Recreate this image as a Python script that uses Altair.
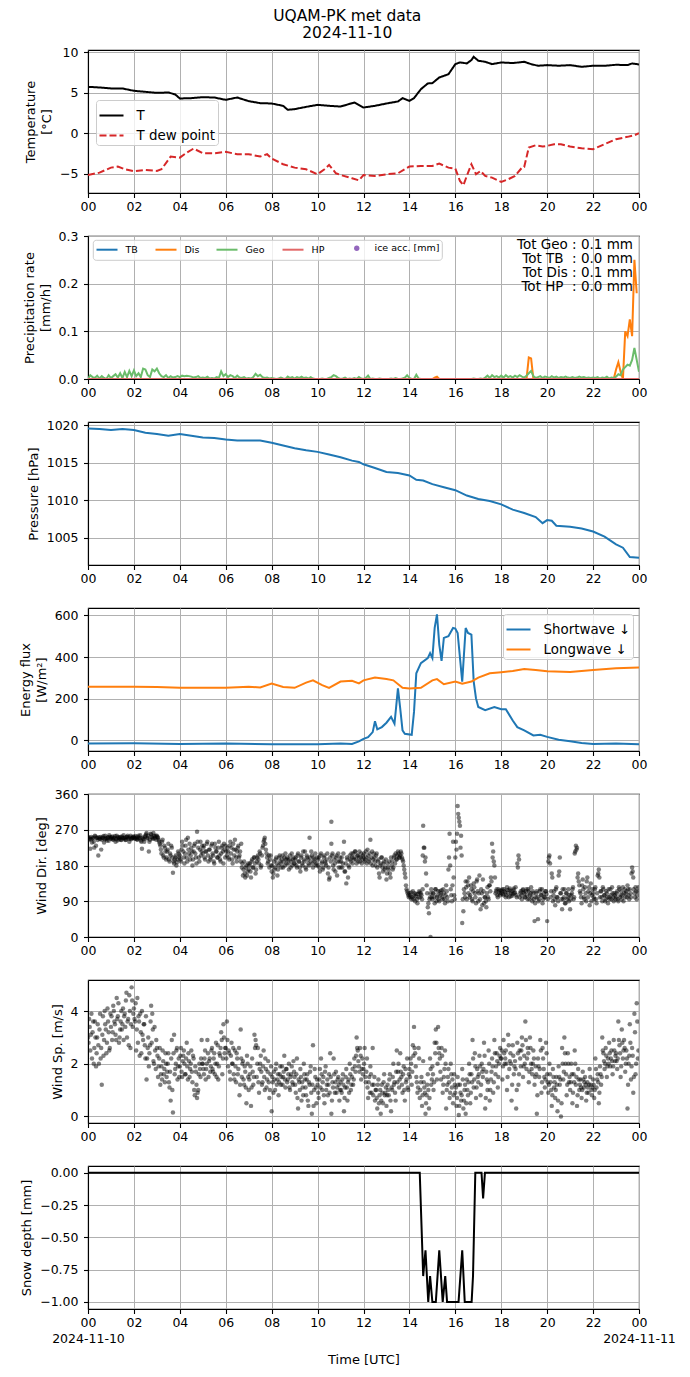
import altair as alt
import pandas as pd

FONT = "DejaVu Sans"
FS = 12.5
W, H = 551, 143

# ---------------- data ----------------
t_hours = [0,0.5,1,1.5,2,2.5,3,3.5,3.8,4,4.5,5,5.5,6,6.5,7,7.5,8,8.5,8.7,9,9.5,10,10.5,11,11.3,11.6,12,12.5,13,
           13.5,13.7,14,14.2,14.5,14.8,15,15.3,15.7,16,16.2,16.5,16.7,16.8,17,17.3,17.6,18,18.5,19,19.3,19.6,20,20.5,
           21,21.5,22,22.5,23,23.5,23.7,24]
t_vals = [5.74,5.66,5.54,5.54,5.25,5.12,5.0,5.04,4.8,4.3,4.34,4.46,4.42,4.13,4.42,3.97,3.72,3.68,3.39,2.9,
          2.98,3.26,3.51,3.39,3.3,3.55,3.8,3.18,3.39,3.68,3.93,4.34,4.0,4.34,5.45,6.16,6.2,6.9,7.3,8.55,
          8.76,8.64,9.05,9.46,8.97,8.84,8.55,8.76,8.68,8.84,8.55,8.35,8.43,8.35,8.43,8.22,8.35,8.35,8.47,8.43,
          8.64,8.51]
td_hours = [0,0.5,1,1.3,1.6,2,2.5,3,3.2,3.6,4,4.3,4.6,5,5.5,6,6.5,7,7.5,7.8,8,8.5,9,9.5,10,10.3,10.5,10.8,11,11.5,
            11.8,12,12.5,13,13.5,14,14.5,15,15.3,15.7,16,16.2,16.35,16.5,16.7,16.9,17.1,17.3,17.6,18,18.3,18.6,18.9,
            19,19.2,19.5,19.8,20,20.3,20.6,21,21.5,22,22.5,23,23.5,23.8,24]
td_vals = [-5.17,-4.88,-4.26,-4.13,-4.46,-4.71,-4.55,-4.67,-4.46,-2.89,-3.02,-2.4,-1.9,-2.48,-2.48,-2.31,-2.6,-2.6,
           -2.89,-2.6,-3.14,-3.84,-4.26,-4.46,-5.08,-4.46,-3.93,-4.96,-5.17,-5.58,-5.83,-5.17,-5.29,-5.08,-4.96,
           -4.13,-4.05,-4.05,-3.76,-4.26,-4.38,-5.91,-6.45,-5.29,-3.84,-5.08,-4.67,-5.29,-5.5,-6.03,-5.7,-5.29,
           -4.26,-4.17,-1.78,-1.49,-1.65,-1.57,-1.36,-1.36,-1.65,-1.86,-1.98,-1.36,-0.74,-0.45,-0.25,0.0]

geo_hours = [i / 10 for i in range(241)]
geo_vals = [
    0.0, 0.008, 0.004, 0.002, 0.007, 0.001, 0.006, 0.002, 0.0, 0.008,
    0.002, 0.006, 0.010, 0.003, 0.012, 0.002, 0.015, 0.004, 0.017, 0.006,
    0.018, 0.006, 0.012, 0.004, 0.022, 0.020, 0.008, 0.004, 0.020, 0.016,
    0.022, 0.012, 0.006, 0.004, 0.008, 0.002, 0.006, 0.003, 0.004, 0.006,
    0.004, 0.007, 0.006, 0.007, 0.006, 0.005, 0.003, 0.004, 0.006, 0.002,
    0.003, 0.002, 0.005, 0.001, 0.002, 0.001, 0.004, 0.002, 0.016, 0.006,
    0.010, 0.004, 0.008, 0.006, 0.002, 0.007, 0.003, 0.002, 0.004, 0.001,
    0.002, 0.001, 0.004, 0.011, 0.006, 0.009, 0.004, 0.002, 0.003, 0.001,
    0.002, 0.001, 0.000, 0.001, 0.003, 0.001, 0.000, 0.005, 0.002, 0.004,
    0.001, 0.004, 0.002, 0.005, 0.002, 0.003, 0.001, 0.004, 0.001, 0.000,
    0.0, 0.0, 0.001, 0.0, 0.0, 0.002, 0.004, 0.008, 0.006, 0.002,
    0.0, 0.001, 0.003, 0.0, 0.001, 0.0, 0.002, 0.0, 0.004, 0.001,
    0.0, 0.002, 0.007, 0.0, 0.001, 0.0, 0.0, 0.001, 0.0, 0.0,
    0.0, 0.0, 0.001, 0.0, 0.002, 0.0, 0.0, 0.001, 0.003, 0.008,
    0.002, 0.0, 0.0, 0.009, 0.001, 0.0, 0.0, 0.0, 0.0, 0.0,
    0.0, 0.0, 0.0, 0.0, 0.0, 0.0, 0.0, 0.0, 0.0, 0.0,
    0.0, 0.0, 0.0, 0.0, 0.0, 0.0, 0.0, 0.0, 0.001, 0.0,
    0.0, 0.001, 0.0, 0.003, 0.007, 0.002, 0.008, 0.004, 0.006, 0.003,
    0.007, 0.003, 0.008, 0.004, 0.006, 0.003, 0.007, 0.004, 0.008, 0.005,
    0.003, 0.007, 0.012, 0.017, 0.006, 0.002, 0.004, 0.006, 0.002, 0.005,
    0.004, 0.002, 0.006, 0.003, 0.005, 0.002, 0.004, 0.003, 0.005, 0.003,
    0.002, 0.004, 0.002, 0.003, 0.005, 0.003, 0.004, 0.002, 0.003, 0.002,
    0.003, 0.002, 0.004, 0.001, 0.003, 0.002, 0.005, 0.001, 0.003, 0.002,
    0.005, 0.010, 0.008, 0.020, 0.025, 0.030, 0.028, 0.040, 0.065, 0.040,
    0.015]
dis_hours = [15.0,15.1,15.2,15.3,19.0,19.1,19.2,19.3,19.4,22.8,22.9,23.0,23.1,23.2,23.3,23.4,23.5,23.6,23.7,23.8,23.9]
dis_vals = [0,0.003,0.005,0,0,0.0,0.045,0.043,0,0,0,0.02,0.035,0.015,0,0.1,0.09,0.125,0.09,0.25,0.18]
tb_hours = [0, 24]
tb_vals = [0, 0]
hp_hours = [0, 24]
hp_vals = [0, 0]
precip_series = ["TB", "Dis", "Geo", "HP"]
precip_colors = ["#1f77b4", "#ff7f0e", "#6bbc6b", "#e26868"]
totals_text = ["Tot Geo : 0.1 mm", "Tot TB\u00a0\u00a0: 0.0 mm", "Tot Dis : 0.1 mm", "Tot HP\u00a0\u00a0: 0.0 mm"]

p_hours = [0,0.5,1,1.5,2,2.5,3,3.5,4,4.5,5,5.5,6,6.5,7,7.5,8,8.5,9,9.5,10,10.5,11,11.5,11.8,12,12.5,13,13.5,14,
           14.3,14.6,15,15.5,16,16.5,17,17.5,18,18.5,19,19.5,19.8,20,20.2,20.4,21,21.5,22,22.5,23,23.3,23.6,24]
p_vals = [1019.55,1019.46,1019.33,1019.46,1019.33,1018.97,1018.8,1018.57,1018.8,1018.57,1018.35,1018.26,1018.08,
          1017.95,1017.95,1017.95,1017.63,1017.28,1016.92,1016.65,1016.43,1016.07,1015.71,1015.27,1015.09,1014.78,
          1014.29,1013.75,1013.62,1013.3,1012.72,1012.63,1012.14,1011.74,1011.34,1010.63,1010.18,1009.91,1009.46,
          1008.75,1008.3,1007.77,1006.96,1007.37,1007.28,1006.61,1006.47,1006.25,1005.85,1005.18,1004.15,1003.7,
          1002.46,1002.37]

lw_hours = [0,2,3,4,6,7,7.5,8,8.5,9,9.5,9.8,10.2,10.5,11,11.5,11.8,12,12.5,13,13.3,13.7,14,14.5,15,15.2,15.5,16,
            16.3,16.7,17,17.5,18,18.5,19,19.5,20,21,22,23,24]
lw_vals = [257,257,256,252,252,257,254,272,256,252,277,288,265,252,282,286,273,288,301,294,288,252,249,252,288,294,
           269,282,272,282,301,322,327,333,343,338,332,328,338,346,350]
sw_hours = [0,2,4,6,8,10,11,11.5,11.8,12,12.2,12.4,12.5,12.6,12.8,13,13.2,13.35,13.5,13.6,13.7,13.8,14.1,14.2,14.3,
            14.5,14.8,14.9,15,15.1,15.2,15.3,15.4,15.5,15.7,15.9,16,16.1,16.3,16.45,16.55,16.7,16.8,16.9,17,17.3,
            17.7,18,18.2,18.5,18.7,19,19.4,19.7,20,20.5,21,21.5,22,23,24]
sw_vals = [-16,-15,-18,-16,-19,-19,-16,-18,-6,6,15,39,91,52,63,84,112,79,249,152,47,31,26,136,322,371,395,419,395,
           540,605,460,382,492,500,540,537,516,282,540,516,508,282,201,160,144,160,149,149,95,63,47,23,26,16,2,-5,
           -13,-18,-16,-19]
rad_series = ["Shortwave \u2193", "Longwave \u2193"]

# wind observations: two interleaved 3-minute sets
wind_hours_a = [i / 20 for i in range(480)]
wind_hours_b = [i / 20 + 0.025 for i in range(480)]
wdir_vals_a = [
    250,245,222,252,248,240,255,230,250,205,248,252,245,250,238,255,247,250,242,252,
    248,253,245,250,240,255,250,246,252,244,250,256,248,245,252,250,240,255,248,250,
    252,247,250,245,255,250,243,222,248,240,255,262,250,215,245,258,250,262,248,255,
    255,250,240,230,210,245,200,225,195,215,235,190,205,225,162,185,200,180,195,210,
    205,190,240,215,185,230,200,250,210,195,225,180,215,235,200,265,225,190,240,215,
    210,230,195,215,240,190,220,200,235,205,185,225,215,200,240,195,210,230,185,220,
    230,205,215,195,240,225,185,220,245,200,215,230,205,190,175,155,190,150,180,165,
    170,185,150,195,175,200,160,190,205,185,210,180,225,240,250,220,200,190,175,205,
    165,150,190,175,200,155,180,205,185,195,175,200,210,185,195,170,205,190,180,200,
    185,200,175,210,190,165,205,180,195,215,170,200,185,250,190,205,175,195,210,185,
    180,200,165,210,190,175,205,185,195,160,145,200,235,210,170,185,200,155,210,190,
    175,200,185,240,165,135,195,180,205,190,200,210,195,215,185,205,200,190,210,195,
    200,190,215,185,205,195,245,200,180,210,190,205,175,195,150,185,200,165,190,175,
    145,185,170,160,200,190,175,205,210,195,215,200,205,210,195,180,160,130,115,105,
    110,100,95,115,105,90,108,85,100,112,110,95,280,225,200,130,75,60,100,120,
    95,110,85,120,100,115,90,105,118,95,110,85,130,100,170,260,120,90,240,105,
    200,220,330,300,280,255,35,65,110,140,95,130,150,105,120,90,135,110,85,145,
    90,155,70,110,145,85,100,75,125,95,130,150,235,215,180,110,120,100,115,105,
    110,120,105,115,100,125,110,118,102,115,108,122,112,105,185,205,100,115,95,120,
    110,100,120,95,115,105,125,90,110,40,100,115,45,95,120,105,85,110,100,115,
    40,190,205,100,160,90,115,80,125,100,155,200,110,70,95,120,85,110,100,90,
    70,105,120,95,210,230,225,160,130,110,85,145,100,125,90,150,115,80,135,105,
    110,95,125,85,155,170,100,115,90,120,105,95,110,85,100,120,95,110,90,105,
    100,115,90,120,105,95,125,110,100,115,130,105,120,100,175,150,110,125,95,115]
wdir_vals_b = [
    252,248,246,238,250,225,253,249,244,251,247,220,250,254,246,249,243,251,256,248,
    251,246,249,254,247,243,252,249,245,253,248,250,244,252,255,247,251,246,250,253,
    249,254,246,251,248,256,240,250,246,252,258,248,255,240,260,252,247,255,251,245,
    252,245,235,220,240,205,230,215,200,220,195,210,230,200,190,195,205,188,215,200,
    195,220,230,200,210,245,190,220,235,205,215,195,230,210,185,240,200,220,205,230,
    225,200,215,235,205,220,195,230,210,190,235,215,200,225,205,190,225,215,235,200,
    215,225,200,230,210,195,235,205,220,190,225,200,215,235,185,170,160,175,155,185,
    180,165,190,175,200,185,170,200,195,215,175,205,230,245,235,210,185,205,195,180,
    180,160,170,195,185,170,200,190,175,205,190,180,195,200,185,195,175,210,195,185,
    195,180,205,190,175,200,185,215,190,175,205,195,180,200,215,185,200,190,180,200,
    195,175,205,185,170,200,190,180,210,175,150,190,205,180,195,165,205,190,175,200,
    190,175,210,165,185,200,150,175,195,210,185,200,215,195,205,190,215,200,185,205,
    210,195,200,220,190,210,185,215,195,200,180,210,190,160,180,200,175,185,170,195,
    160,175,190,150,180,170,200,185,195,205,210,200,215,200,190,170,150,120,110,100,
    105,112,100,95,110,102,95,108,115,100,105,120,225,190,160,110,85,95,110,100,
    110,100,120,90,105,95,115,110,100,120,95,105,115,90,200,180,105,130,150,95,
    240,260,310,290,225,205,95,120,100,125,140,110,100,130,95,115,125,100,140,115,
    110,95,120,80,115,100,90,110,100,130,115,140,200,190,150,115,105,120,110,118,
    115,108,120,112,105,118,100,122,110,104,118,110,125,100,175,195,110,105,118,112,
    100,115,105,120,95,110,100,115,95,85,110,100,90,115,105,120,95,100,115,108,
    95,200,185,115,150,105,95,120,100,90,165,110,95,120,100,85,110,95,120,105,
    95,110,125,100,215,220,150,140,115,100,130,120,95,110,140,100,125,110,90,120,
    100,120,95,110,160,150,115,100,125,105,90,115,100,120,95,105,125,100,110,95,
    110,95,125,100,115,105,90,120,110,100,120,95,110,160,165,120,100,115,105,125]
wdir_extra_hours = [10.6, 14.92, 14.58]
wdir_extra_vals = [290, 0, 205]
wspd_vals_a = [
    3.0,3.7,2.5,3.9,3.2,2.0,3.6,1.9,3.0,2.7,3.3,2.2,1.2,3.8,2.9,3.5,2.4,4.1,3.2,2.6,
    3.4,2.9,4.2,3.6,3.1,4.5,3.8,2.8,3.3,4.0,3.5,2.9,3.9,4.4,3.0,3.7,4.6,2.6,4.9,3.4,
    4.1,3.6,2.5,4.5,3.8,2.3,3.2,4.0,2.9,3.5,2.2,1.4,2.6,1.9,2.7,4.2,3.9,2.1,3.4,1.8,
    2.6,1.5,2.2,1.2,1.9,2.5,1.6,1.3,2.0,1.7,2.4,1.1,0.6,2.9,0.15,3.1,1.8,2.5,1.4,2.2,
    1.9,2.6,1.5,2.3,2.0,1.6,2.8,1.4,2.1,1.8,2.5,1.3,2.2,0.8,1.7,0.7,1.0,2.0,1.5,2.9,
    2.0,1.6,2.5,1.8,2.9,1.5,2.2,1.9,2.6,1.7,2.4,2.0,1.5,2.7,1.9,2.3,3.2,1.6,3.5,2.4,
    2.6,3.6,1.9,2.4,1.4,2.8,2.0,1.6,2.5,1.3,2.2,1.8,0.8,3.3,1.5,2.1,1.2,1.7,0.5,2.0,
    1.0,1.6,0.4,2.2,1.2,3.1,2.9,1.5,2.6,0.9,2.0,1.7,1.3,2.5,1.0,1.8,1.4,2.1,0.7,1.6,
    0.2,1.3,1.7,1.0,2.0,1.4,0.8,1.6,1.2,1.9,1.5,2.3,1.1,1.8,1.4,2.0,1.0,1.6,1.3,2.1,
    1.5,0.9,2.2,0.3,1.3,1.8,0.6,1.1,2.0,1.4,0.8,1.6,0.4,1.2,1.9,0.1,2.7,1.0,1.5,0.5,
    1.2,0.7,1.8,2.2,1.0,1.5,0.5,1.9,1.2,0.8,1.6,2.4,0.1,1.3,2.2,0.9,1.7,1.1,1.5,0.6,
    1.3,0.9,1.6,0.2,1.1,1.8,0.6,1.4,2.0,1.0,1.5,1.2,2.2,1.7,3.0,2.5,1.9,2.6,1.4,2.2,
    1.8,2.6,1.3,2.2,0.7,1.5,1.9,0.9,2.6,1.2,0.6,1.0,0.3,1.4,0.8,0.1,1.2,0.5,1.6,0.9,
    0.4,1.2,0.8,1.6,0.2,1.0,2.0,1.3,0.6,2.5,1.7,1.1,2.4,1.5,0.9,1.9,0.6,1.3,2.2,1.0,
    1.8,2.2,1.2,2.7,3.4,2.4,1.5,0.9,2.6,0.7,1.3,0.4,2.1,1.1,0.1,0.8,1.6,0.3,2.2,1.2,
    1.9,1.0,2.8,3.3,1.4,3.4,2.4,1.7,2.6,0.9,1.5,2.5,0.3,1.2,1.8,0.7,2.0,1.1,0.5,1.6,
    0.9,0.4,1.5,0.05,1.2,0.6,1.8,0.3,1.0,0.1,1.4,0.8,2.0,0.5,1.6,2.9,1.1,2.4,0.7,1.8,
    1.3,2.3,0.8,2.0,1.5,2.8,0.3,1.7,1.0,2.5,0.6,1.4,2.2,0.9,2.9,1.6,2.4,1.1,2.0,2.6,
    2.2,1.4,2.9,2.0,2.5,1.0,3.1,1.8,2.4,0.6,2.7,1.6,2.1,0.3,2.8,1.2,2.5,1.9,3.0,1.5,
    2.3,3.6,1.8,2.6,1.3,3.0,2.0,1.6,2.5,1.2,1.9,0.1,2.2,1.5,2.9,0.9,2.6,1.8,1.1,2.8,
    1.6,0.9,2.0,1.3,0.4,1.8,1.1,0.7,1.5,0.2,1.9,1.2,0.0,2.6,1.4,3.0,2.0,0.8,2.4,1.3,
    1.0,2.0,0.5,1.6,2.5,1.2,0.4,1.8,1.0,1.4,0.7,1.7,1.1,1.5,0.6,1.3,0.9,1.8,1.2,0.8,
    1.4,0.7,2.2,1.1,1.6,0.5,1.9,1.2,3.0,2.4,1.8,2.6,1.5,2.2,2.8,1.9,2.5,1.6,2.9,2.1,
    2.4,1.8,3.6,2.7,1.5,3.3,2.2,2.9,1.7,2.5,0.3,2.0,3.5,1.4,2.6,0.9,3.9,1.6,4.3,2.2]
wspd_vals_b = [
    2.8,3.4,3.1,2.2,3.6,2.6,3.0,2.4,3.5,2.0,3.9,2.6,3.1,2.3,4.0,3.3,2.8,3.6,2.5,3.9,
    3.8,3.2,4.0,3.5,2.9,3.7,4.3,3.0,3.6,3.3,4.1,3.8,3.4,4.7,3.6,2.7,4.0,3.5,4.4,3.9,
    3.7,4.3,3.3,2.8,3.6,3.9,2.4,3.1,3.5,2.7,3.8,2.2,3.0,2.4,3.6,2.8,3.3,2.0,2.5,2.9,
    2.3,1.9,2.6,1.6,1.4,2.1,1.8,2.4,1.5,2.0,1.3,1.7,2.2,1.0,2.4,1.6,2.0,2.6,1.9,1.5,
    2.3,1.7,2.1,2.5,1.6,2.2,1.9,2.4,1.5,2.0,1.7,2.3,1.0,1.9,1.2,0.9,1.6,1.8,2.2,2.0,
    1.8,2.2,1.4,2.0,2.4,2.1,1.7,2.5,1.8,2.2,1.6,2.8,2.0,1.4,2.4,2.6,2.9,2.2,3.0,2.6,
    2.2,2.9,2.5,1.7,2.3,2.0,2.6,1.4,1.9,2.4,1.6,2.6,1.2,2.2,2.0,1.4,1.9,1.1,2.3,1.5,
    1.4,1.9,1.1,1.7,1.5,2.6,2.7,2.0,1.3,1.8,2.3,1.2,1.9,1.5,2.2,1.1,1.7,1.3,1.0,1.9,
    1.5,0.9,1.4,1.8,1.2,1.6,1.3,1.9,1.5,1.2,1.7,1.4,1.8,1.3,1.6,1.1,1.5,1.9,1.2,1.7,
    1.2,1.6,0.7,1.4,1.0,1.5,1.3,0.8,1.6,1.1,1.4,0.6,1.3,1.7,0.9,1.2,0.4,1.8,1.1,1.4,
    0.9,1.4,1.1,1.6,1.3,0.8,1.7,1.0,1.4,1.2,0.9,1.5,0.6,1.1,1.6,1.3,0.9,1.4,1.2,1.0,
    1.0,1.4,1.2,0.7,1.5,1.1,1.3,0.9,1.6,1.2,1.8,1.4,1.9,2.3,2.6,2.1,1.7,2.3,1.8,1.6,
    2.0,1.5,1.7,1.1,1.3,0.9,1.6,1.2,0.8,1.5,1.0,0.7,1.2,0.5,1.0,0.6,0.9,1.3,0.8,1.1,
    0.8,1.0,1.4,0.6,1.1,1.5,1.2,0.9,1.7,1.3,2.0,1.4,1.7,1.2,1.6,1.0,1.8,1.4,1.1,1.6,
    1.5,2.0,1.7,2.3,2.6,1.9,1.3,1.1,2.2,1.0,1.5,0.8,1.3,0.9,0.5,1.2,1.0,0.7,1.8,1.4,
    1.6,1.3,2.4,2.8,2.0,2.6,2.2,1.4,2.3,1.2,1.8,2.0,1.0,1.5,1.3,0.9,1.6,1.4,0.8,1.2,
    1.1,0.7,1.2,0.4,0.9,0.8,1.4,0.6,1.2,0.5,1.0,1.3,1.6,0.9,1.3,2.2,1.4,1.9,1.1,1.5,
    1.6,1.9,1.2,1.7,1.8,2.3,0.7,1.4,1.3,2.0,1.0,1.7,1.9,1.3,2.4,1.9,2.1,1.5,2.3,2.2,
    2.5,1.9,2.4,2.2,2.0,1.5,2.7,2.1,2.0,1.2,2.3,1.9,1.8,1.0,2.4,1.6,2.2,2.5,2.7,1.9,
    2.0,2.9,2.2,2.4,1.7,2.6,1.8,2.0,2.2,1.5,1.6,0.8,1.9,1.8,2.5,1.3,2.2,1.5,1.4,2.4,
    1.3,1.2,1.6,1.0,0.8,1.5,1.3,1.0,1.2,0.6,1.5,1.4,0.5,2.0,1.7,2.4,1.6,1.2,2.0,1.5,
    1.3,1.6,0.9,1.3,2.0,1.5,0.8,1.4,1.2,1.1,1.0,1.4,1.3,1.2,0.9,1.1,1.2,1.5,1.0,1.1,
    1.2,1.0,1.8,1.4,1.3,0.9,1.6,1.5,2.5,2.1,2.0,2.3,1.9,2.0,2.4,2.2,2.1,1.9,2.5,2.3,
    2.1,2.2,2.9,2.4,1.9,2.8,2.5,2.6,2.0,2.2,1.2,2.3,2.8,1.9,2.3,1.5,3.2,2.0,3.6,2.5]

sd_hours = [0,14.45,14.6,14.7,14.82,14.9,15.0,15.15,15.3,15.45,15.56,15.64,16.14,16.3,16.41,16.71,16.77,16.87,
            17.14,17.21,17.29,24]
sd_vals = [0,0,-0.8,-0.6,-1.0,-0.8,-1.0,-1.0,-0.6,-1.0,-0.8,-1.0,-1.0,-0.6,-1.0,-1.0,-0.8,0,0,-0.2,0,0]

# ---------------- helpers ----------------
x_tick_vals = list(range(0, 25, 2))


def x_enc(last=False):
    if last:
        expr = ("datum.value == 0 ? ['00', '2024-11-10'] : (datum.value == 24 ? ['00', '2024-11-11'] : "
                "(datum.value < 10 ? '0' + datum.value : '' + datum.value))")
        ax = alt.Axis(values=x_tick_vals, labelExpr=expr, title="Time [UTC]", titlePadding=9,
                      labelLineHeight=15.6)
    else:
        expr = "datum.value >= 24 ? '00' : (datum.value < 10 ? '0' + datum.value : '' + datum.value)"
        ax = alt.Axis(values=x_tick_vals, labelExpr=expr, title=None)
    return alt.X("h:Q", scale=alt.Scale(domain=[0, 24], nice=False, zero=False), axis=ax)


def y_enc(title, domain, values, fmt):
    return alt.Y("v:Q", scale=alt.Scale(domain=domain, nice=False, zero=False),
                 axis=alt.Axis(values=values, format=fmt, title=title, labelPadding=5.5, titlePadding=6))


def frame(hours, vals, series=None):
    d = pd.DataFrame({"h": hours, "v": vals})
    if series is not None:
        d["s"] = series
    return d


LW = 2.0
legend_frame = dict(strokeColor="#cccccc", fillColor="rgba(255,255,255,0.8)", cornerRadius=3)

# ---------------- panel 1: temperature ----------------
temp_df = pd.concat([frame(t_hours, t_vals, "T"), frame(td_hours, td_vals, "T dew point")])
temp_legend = alt.Legend(title=None, orient="none", legendX=8, legendY=50, symbolType="stroke",
                         symbolSize=576, symbolStrokeWidth=LW, labelFontSize=13.4, labelOffset=12,
                         rowPadding=-3, padding=2.5, **legend_frame)
p1 = alt.Chart(temp_df).mark_line(strokeWidth=LW, clip=True).encode(
    x=x_enc(),
    y=y_enc(["Temperature", "[°C]"], [-7.4, 10.3], [-5, 0, 5, 10], "d"),
    color=alt.Color("s:N", scale=alt.Scale(domain=["T", "T dew point"], range=["#000000", "#d62728"]),
                    legend=temp_legend),
    strokeDash=alt.StrokeDash("s:N", scale=alt.Scale(domain=["T", "T dew point"], range=[[1, 0], [7, 3]]),
                              legend=temp_legend),
).properties(width=W, height=H)

# ---------------- panel 2: precipitation ----------------
pcol = alt.Scale(domain=precip_series, range=precip_colors)
p_legend = alt.Legend(title=None, orient="none", legendX=7.5, legendY=2.2, direction="horizontal",
                      symbolType="stroke", symbolSize=441, symbolStrokeWidth=LW, labelFontSize=9.5,
                      labelOffset=7, columnPadding=13, padding=0)
py = y_enc(["Precipitation rate", "[mm/h]"], [0, 0.3], [0, 0.1, 0.2, 0.3], ".1f")
precip_layers = []
for name, hh, vv in [("TB", tb_hours, tb_vals), ("Dis", dis_hours, dis_vals), ("Geo", geo_hours, geo_vals),
                     ("HP", hp_hours, hp_vals)]:
    precip_layers.append(
        alt.Chart(frame(hh, vv, name)).mark_line(strokeWidth=LW, clip=True).encode(
            x=x_enc(), y=py, color=alt.Color("s:N", scale=pcol, legend=p_legend)))
ice_df = pd.DataFrame({"h": [0.0], "v": [None], "s": ["ice acc. [mm]"]})
ice_layer = alt.Chart(ice_df).mark_point(filled=True, color="#9467bd", opacity=1).encode(
    x=x_enc(), y=py,
    shape=alt.Shape("s:N", scale=alt.Scale(domain=["ice acc. [mm]"], range=["circle"]),
                    legend=alt.Legend(title=None, orient="none", legendX=264, legendY=7.5, symbolSize=28,
                                      labelFontSize=9.5, labelOffset=13, padding=0, symbolOpacity=1,
                                      symbolFillColor="#9467bd", symbolStrokeColor="#9467bd")))
box_df = pd.DataFrame({"k": [0]})
legend_box = alt.Chart(box_df).mark_rect(fill="white", fillOpacity=0.8, stroke="#cccccc", strokeWidth=1,
                                         cornerRadius=3).encode(
    x=alt.value(5.3), x2=alt.value(354.3), y=alt.value(4.3), y2=alt.value(24.3))
tot_df = pd.DataFrame({"t": ["\n".join(totals_text)]})
tot_text = alt.Chart(tot_df).mark_text(align="right", baseline="alphabetic", fontSize=13.5, font=FONT,
                                       lineBreak="\n", lineHeight=14.3, color="black").encode(
    x=alt.value(W - 6), y=alt.value(12.5), text="t:N")
p2 = alt.layer(*precip_layers, ice_layer, legend_box, tot_text).resolve_scale(color="shared").properties(
    width=W, height=H)

# ---------------- panel 3: pressure ----------------
p3 = alt.Chart(frame(p_hours, p_vals)).mark_line(strokeWidth=LW, color="#1f77b4", clip=True).encode(
    x=x_enc(), y=y_enc("Pressure [hPa]", [1001.4, 1020.4], [1005, 1010, 1015, 1020], "d")
).properties(width=W, height=H)

# ---------------- panel 4: radiation ----------------
rad_df = pd.concat([frame(sw_hours, sw_vals, rad_series[0]), frame(lw_hours, lw_vals, rad_series[1])])
p4 = alt.Chart(rad_df).mark_line(strokeWidth=LW, clip=True).encode(
    x=x_enc(),
    y=y_enc(["Energy flux", "[W/m\u00b2]"], [-52, 636], [0, 200, 400, 600], "d"),
    color=alt.Color("s:N", scale=alt.Scale(domain=rad_series, range=["#1f77b4", "#ff7f0e"]),
                    legend=alt.Legend(title=None, orient="top-right", offset=6, symbolType="stroke",
                                      symbolSize=576, symbolStrokeWidth=LW, labelFontSize=13.4, labelOffset=12,
                                      rowPadding=0, padding=2.5, **legend_frame)),
).properties(width=W, height=H)

# ---------------- panel 5: wind direction ----------------
wdir_df = pd.concat([frame(wind_hours_a, wdir_vals_a), frame(wind_hours_b, wdir_vals_b),
                     frame(wdir_extra_hours, wdir_extra_vals)])
p5 = alt.Chart(wdir_df).mark_circle(color="black", opacity=0.5, size=20, clip=True).encode(
    x=x_enc(), y=y_enc("Wind Dir. [deg]", [0, 360], [0, 90, 180, 270, 360], "d")
).properties(width=W, height=H)

# ---------------- panel 6: wind speed ----------------
wspd_df = pd.concat([frame(wind_hours_a, wspd_vals_a), frame(wind_hours_b, wspd_vals_b)])
p6 = alt.Chart(wspd_df).mark_circle(color="black", opacity=0.5, size=20, clip=True).encode(
    x=x_enc(), y=y_enc("Wind Sp. [m/s]", [-0.25, 5.18], [0, 2, 4], "d")
).properties(width=W, height=H)

# ---------------- panel 7: snow depth ----------------
p7 = alt.Chart(frame(sd_hours, sd_vals)).mark_line(strokeWidth=LW, color="black", clip=True).encode(
    x=x_enc(last=True),
    y=y_enc("Snow depth [mm]", [-1.055, 0.052], [-1.0, -0.75, -0.5, -0.25, 0.0], ".2f")
).properties(width=W, height=H)

chart = alt.vconcat(p1, p2, p3, p4, p5, p6, p7, spacing=43, bounds="flush").resolve_scale(
    color="independent", strokeDash="independent", shape="independent", x="independent", y="independent"
).resolve_legend(
    color="independent", strokeDash="independent", shape="independent"
).properties(
    title=alt.Title(["UQAM-PK met data", "2024-11-10"], anchor="middle", fontSize=15.5, fontWeight="normal",
                    font=FONT, color="black", lineHeight=17, offset=4),
    padding={"left": 10, "top": 1, "right": 0, "bottom": 5},
    background="white",
).configure_axis(
    labelFont=FONT, labelFontSize=FS, labelColor="black", titleFont=FONT, titleFontSize=13,
    titleFontWeight="normal", titleColor="black", domainColor="black", domainWidth=1.1,
    tickColor="black", tickWidth=1.1, tickSize=4.5, labelPadding=4, gridColor="#b0b0b0", gridWidth=1.0,
    grid=True, labelOverlap=False, labelFlush=False, titleLineHeight=16,
).configure_axisX(
    labelPadding=3.3,
).configure_legend(
    labelFont=FONT, labelColor="black",
).configure_view(
    stroke="black", strokeWidth=1.1,
)

chart.save("out.html", embed_options={"renderer": "svg", "actions": False})
